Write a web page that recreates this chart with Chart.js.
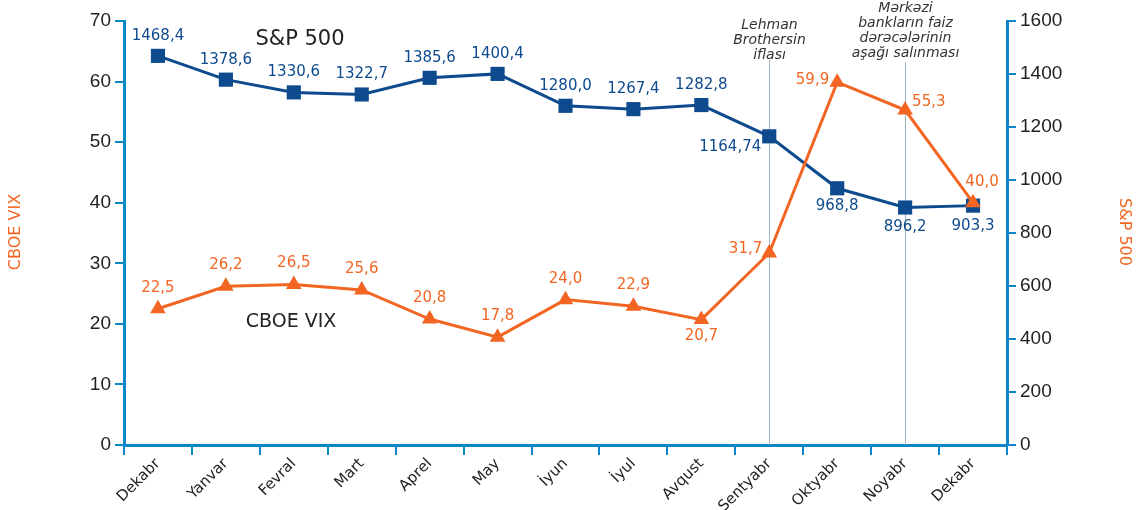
<!DOCTYPE html>
<html>
<head>
<meta charset="utf-8">
<script src="https://cdn.jsdelivr.net/npm/chart.js@4"></script>
<style>
  html, body { margin: 0; padding: 0; background: #fff; }
  #wrap { width: 1140px; height: 510px; position: relative; }
</style>
</head>
<body>
<div id="wrap"><canvas id="myChart" width="1140" height="510"></canvas></div>
<script>
// data
var months = ['Dekabr', 'Yanvar', 'Fevral', 'Mart', 'Aprel', 'May', 'İyun', 'İyul', 'Avqust', 'Sentyabr', 'Oktyabr', 'Noyabr', 'Dekabr'];
var spValues = [1468.4, 1378.6, 1330.6, 1322.7, 1385.6, 1400.4, 1280.0, 1267.4, 1282.8, 1164.74, 968.8, 896.2, 903.3];
var spLabels = ['1468,4', '1378,6', '1330,6', '1322,7', '1385,6', '1400,4', '1280,0', '1267,4', '1282,8', '1164,74', '968,8', '896,2', '903,3'];
var vixValues = [22.5, 26.2, 26.5, 25.6, 20.8, 17.8, 24.0, 22.9, 20.7, 31.7, 59.9, 55.3, 40.0];
var vixLabels = ['22,5', '26,2', '26,5', '25,6', '20,8', '17,8', '24,0', '22,9', '20,7', '31,7', '59,9', '55,3', '40,0'];
var vixTicks = [0, 10, 20, 30, 40, 50, 60, 70];
var spTicks = [0, 200, 400, 600, 800, 1000, 1200, 1400, 1600];
var events = [
    { index: 9, text: ['Lehman', 'Brothersin', 'iflası'] },
    { index: 11, text: ['Mərkəzi', 'bankların faiz', 'dərəcələrinin', 'aşağı salınması'] }
];

var axisBlue = '#0b86c8';
var spBlue = '#0d4a8e';
var vixOrange = '#f26522';
var labelFont = '15px "DejaVu Sans"';

// where each value label sits relative to its point: [dx, dy, align]
var spLabelPos = [
    [0, -20, 'center'], [0, -20, 'center'], [0, -20, 'center'], [0, -20, 'center'], [0, -20, 'center'],
    [0, -20, 'center'], [0, -20, 'center'], [0, -20, 'center'], [0, -20, 'center'],
    [-8, 11, 'right'], [0, 18, 'center'], [0, 20, 'center'], [0, 20, 'center']
];
var vixLabelPos = [
    [0, -21, 'center'], [0, -21, 'center'], [0, -21, 'center'], [0, -21, 'center'], [0, -21, 'center'],
    [0, -21, 'center'], [0, -21, 'center'], [0, -21, 'center'], [0, 16, 'center'],
    [-7, -4, 'right'], [-8, -2, 'right'], [7, -8, 'left'], [9, -21, 'center']
];

var extras = {
    id: 'extras',
    beforeDatasetsDraw: function (chart) {
        var ctx = chart.ctx;
        var x = chart.scales.x;
        var bottom = chart.chartArea.bottom;
        ctx.save();
        ctx.strokeStyle = '#9fb4c9';
        ctx.lineWidth = 1;
        events.forEach(function (ev, i) {
            var px = Math.round(x.getPixelForValue(ev.index)) + 0.5;
            var top = i === 0 ? 60 : 62;
            ctx.beginPath();
            ctx.moveTo(px, top);
            ctx.lineTo(px, bottom);
            ctx.stroke();
            ctx.fillStyle = '#333';
            ctx.font = 'italic 14px "DejaVu Sans"';
            ctx.textAlign = 'center';
            ctx.textBaseline = 'middle';
            var startY = i === 0 ? 25 : 8;
            ev.text.forEach(function (line, k) {
                ctx.fillText(line, px, startY + k * 15);
            });
        });
        ctx.restore();
    },
    afterDatasetsDraw: function (chart) {
        var ctx = chart.ctx;
        ctx.save();
        ctx.font = labelFont;
        ctx.textBaseline = 'middle';
        var sp = chart.getDatasetMeta(1).data;
        sp.forEach(function (pt, i) {
            var p = spLabelPos[i];
            ctx.fillStyle = spBlue;
            ctx.textAlign = p[2];
            ctx.fillText(spLabels[i], pt.x + p[0], pt.y + p[1]);
        });
        var vx = chart.getDatasetMeta(0).data;
        vx.forEach(function (pt, i) {
            var p = vixLabelPos[i];
            ctx.fillStyle = vixOrange;
            ctx.textAlign = p[2];
            ctx.fillText(vixLabels[i], pt.x + p[0], pt.y + p[1]);
        });

        // series names inside the plot
        ctx.fillStyle = '#222';
        ctx.textAlign = 'center';
        ctx.font = '21px "DejaVu Sans"';
        ctx.fillText('S&P 500', 300, 40);
        ctx.font = '19px "DejaVu Sans"';
        ctx.fillText('CBOE VIX', 291, 322);

        // axis titles
        ctx.fillStyle = vixOrange;
        ctx.font = '16px "DejaVu Sans"';
        ctx.save();
        ctx.translate(16, 232);
        ctx.rotate(-Math.PI / 2);
        ctx.fillText('CBOE VIX', 0, 0);
        ctx.restore();
        ctx.save();
        ctx.translate(1124, 232);
        ctx.rotate(Math.PI / 2);
        ctx.fillText('S&P 500', 0, 0);
        ctx.restore();
        ctx.restore();
    }
};

var element = document.getElementById('myChart').getContext('2d');

var chart = new Chart(element, {
    type: 'line',
    data: {
        labels: months,
        datasets: [{
            label: 'CBOE VIX',
            data: vixValues,
            yAxisID: 'yLeft',
            borderColor: vixOrange,
            backgroundColor: vixOrange,
            borderWidth: 3,
            pointStyle: 'triangle',
            pointRadius: 9,
            pointBorderWidth: 0,
            tension: 0,
            order: 0
        }, {
            label: 'S&P 500',
            data: spValues,
            yAxisID: 'yRight',
            borderColor: spBlue,
            backgroundColor: spBlue,
            borderWidth: 3,
            pointStyle: 'rect',
            pointRadius: 10,
            pointBorderWidth: 0,
            tension: 0,
            order: 1
        }]
    },
    options: {
        responsive: false,
        animation: false,
        layout: { padding: { top: 21, left: 0, right: 0, bottom: 0 } },
        plugins: { legend: { display: false }, tooltip: { enabled: false } },
        scales: {
            x: {
                offset: true,
                grid: {
                    offset: true,
                    drawOnChartArea: false,
                    drawTicks: true,
                    tickLength: 10,
                    color: axisBlue,
                    lineWidth: 2
                },
                border: { color: axisBlue, width: 3 },
                ticks: {
                    color: '#222',
                    font: { family: 'DejaVu Sans', size: 15 },
                    maxRotation: 45,
                    minRotation: 45,
                    autoSkip: false,
                    padding: 0
                },
                afterFit: function (s) { s.height = 65; }
            },
            yLeft: {
                position: 'left',
                min: 0,
                max: 70,
                afterBuildTicks: function (s) { s.ticks = vixTicks.map(function (v) { return { value: v }; }); },
                grid: { drawOnChartArea: false, tickLength: 9, color: axisBlue, lineWidth: 2 },
                border: { color: axisBlue, width: 3 },
                ticks: {
                    color: '#222',
                    font: { family: 'Liberation Sans', size: 19 },
                    padding: 4,
                    callback: function (v) { return String(v); }
                },
                afterFit: function (s) { s.width = 124; }
            },
            yRight: {
                position: 'right',
                min: 0,
                max: 1600,
                afterBuildTicks: function (s) { s.ticks = spTicks.map(function (v) { return { value: v }; }); },
                grid: { drawOnChartArea: false, tickLength: 9, color: axisBlue, lineWidth: 2 },
                border: { color: axisBlue, width: 3 },
                ticks: {
                    color: '#222',
                    font: { family: 'Liberation Sans', size: 19 },
                    padding: 4,
                    callback: function (v) { return String(v); }
                },
                afterFit: function (s) { s.width = 133; }
            }
        }
    },
    plugins: [extras]
});
</script>
</body>
</html>
